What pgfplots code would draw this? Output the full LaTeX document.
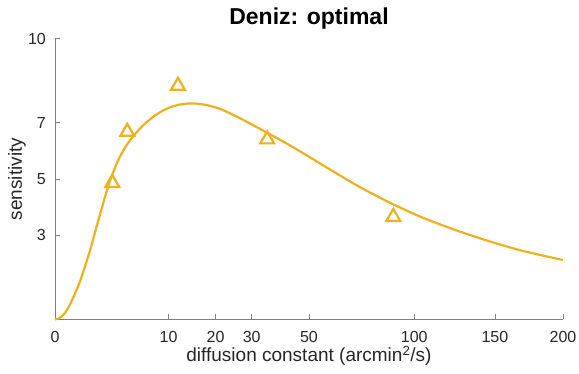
\documentclass[border=0pt]{standalone}
\usepackage{fontspec}
\setmainfont{Liberation Sans}
\usepackage{pgfplots}
\pgfplotsset{compat=1.18}
\definecolor{mgold}{rgb}{0.929,0.694,0.125}
\definecolor{axgray}{rgb}{0.5,0.5,0.5}
\definecolor{txt}{rgb}{0.15,0.15,0.15}
\begin{document}
\begin{tikzpicture}
\begin{axis}[
  scale only axis, width=508pt, height=281pt,
  xmin=0, xmax=200, ymin=0, ymax=10,
  x coord trafo/.code={\pgfmathparse{sqrt(#1)}},
  x coord inv trafo/.code={\pgfmathparse{(#1)^2}},
  xtick={0,10,20,30,50,100,150,200},
  xticklabels={0,10,20,30,50,100,150,200},
  ytick={3,5,7,10}, yticklabels={3,5,7,10},
  axis x line*=bottom, axis y line*=left,
  axis line style={axgray, line width=0.8pt, -},
  tick align=inside, major tick length=5pt,
  tick style={axgray, line width=0.8pt},
  /pgf/number format/assume math mode=true,
  ticklabel style={font=\fontsize{16}{19}\selectfont, text=txt, inner sep=0pt},
  xticklabel style={anchor=base, yshift=-23pt},
  yticklabel style={anchor=east, xshift=-9pt},
  xlabel={diffusion constant (arcmin\textsuperscript{2}/s)},
  xlabel style={font=\fontsize{19}{22}\selectfont, text=txt, inner sep=0pt,
    at={(axis description cs:0.5,-0.1512)}, anchor=base},
  ylabel={sensitivity},
  ylabel style={font=\fontsize{19}{22}\selectfont, text=txt, inner sep=0pt,
    at={(axis description cs:-0.065,0.5)}, anchor=base, rotate=0},
  title={Deniz: optimal},
  title style={font=\bfseries\fontsize{23}{27}\selectfont, inner sep=0pt,
    at={(axis description cs:0.5,1.0302)}, anchor=base},
  clip=false,
]
\addplot[mgold, line width=2.2pt, smooth, tension=0.4] table {
x y
0 0
0.0124 0.043
0.038 0.114
0.0938 0.285
0.174 0.534
0.310 0.925
0.484 1.352
0.698 1.886
0.949 2.456
1.240 3.096
1.569 3.737
1.938 4.359
2.344 4.929
2.790 5.409
3.274 5.801
4.018 6.228
4.715 6.512
5.599 6.797
6.560 7.036
7.750 7.260
9.040 7.434
10.43 7.562
11.92 7.644
13.50 7.683
15.19 7.687
17.44 7.641
19.84 7.555
22.40 7.420
26.52 7.164
31.00 6.879
34.83 6.651
40.29 6.335
46.52 5.986
55.66 5.488
70.68 4.769
86.98 4.153
104.95 3.619
125.24 3.164
146.65 2.776
169.74 2.438
200 2.117
};
\addplot[only marks, mgold, mark=triangle, mark size=8pt, mark options={line width=2.2pt, mgold}] table {
x y
2.54 4.86
4.05 6.68
11.72 8.32
34.9 6.41
88.7 3.65
};
\coordinate (ll) at (rel axis cs:0,0);
\coordinate (ur) at (rel axis cs:1,1);
\end{axis}
\pgfresetboundingbox
\path ([xshift=-55pt,yshift=-54.5pt]ll) rectangle ([xshift=16pt,yshift=38.5pt]ur);
\end{tikzpicture}
\end{document}
